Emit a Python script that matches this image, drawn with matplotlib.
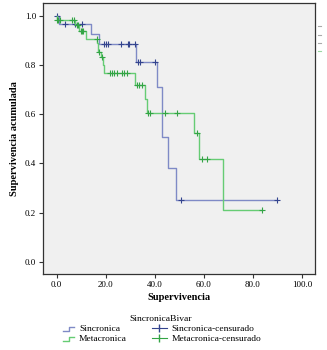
import numpy as np
import matplotlib
matplotlib.use("Agg")
import matplotlib.pyplot as plt
from matplotlib.lines import Line2D
from matplotlib.legend_handler import HandlerBase

plt.rcParams['font.family'] = ['Liberation Serif', 'DejaVu Serif']

# Sincronica: step times and survival after each step
sinc_times = [0, 1.1, 13.9, 17.3, 32.4, 40.8, 43.1, 45.6, 48.7]
sinc_surv = [1.0, 0.966, 0.926, 0.886, 0.812, 0.711, 0.507, 0.380, 0.253]
sinc_cens = [0.3, 3.4, 7.5, 10.5, 19.3, 20.1, 20.8, 26.1, 29.0, 29.6, 32.0,
             33.3, 34.0, 40.1, 50.7, 89.8]

# Metacronica
meta_times = [0, 0.1, 7.5, 9.2, 12.0, 16.6, 17.0, 17.9, 18.8, 19.3, 32.0,
              36.0, 36.7, 56.0, 58.1, 67.7]
meta_surv = [1.0, 0.983, 0.964, 0.937, 0.908, 0.888, 0.854, 0.831, 0.80, 0.768,
             0.721, 0.664, 0.607, 0.522, 0.417, 0.21]
meta_cens = [0.2, 0.6, 1.2, 6.4, 7.1, 8.2, 8.8, 9.8, 10.5, 10.9, 16.3, 17.4,
             18.5, 21.8, 22.7, 23.5, 24.5, 26.8, 27.6, 28.6, 32.6, 33.6, 34.7,
             37.4, 38.1, 44.2, 49.2, 57.1, 59.4, 61.5, 83.7]

groups = [
    ('Sincronica', sinc_times, sinc_surv, sinc_cens, '#7f8ac6', '#34448e'),
    ('Metacronica', meta_times, meta_surv, meta_cens, '#66cc74', '#33a445'),
]


class StepHandler(HandlerBase):
    def create_artists(self, legend, orig_handle, xdescent, ydescent,
                       width, height, fontsize, trans):
        x0 = -xdescent + width * 0.25
        w = width * 0.75
        xs = [x0, x0 + w * 0.5, x0 + w * 0.5, x0 + w]
        ys = [height * 0.1, height * 0.1, height * 0.7, height * 0.7]
        ln = Line2D(xs, ys, color=orig_handle.get_color(), lw=1.0)
        ln.set_transform(trans)
        return [ln]


fig = plt.figure(figsize=(3.27, 3.5), dpi=100)
ax = fig.add_axes([0.1315, 0.217, 0.832, 0.774])
ax.set_facecolor('#f0f0f0')

handles_step = []
handles_cens = []
for name, t, s, c, lc, mc in groups:
    t = np.array(t)
    s = np.array(s)
    c = np.array(c)
    last = max(t.max(), c.max())
    tx = np.append(t, last)
    sx = np.append(s, s[-1])
    ax.step(tx, sx, where='post', color=lc, lw=1.0)
    idx = np.searchsorted(t, c, side='right') - 1
    ax.plot(c, s[idx], linestyle='none', marker='+', color=mc,
            markersize=4.2, markeredgewidth=0.8)
    handles_step.append(Line2D([], [], color=lc, label=name))
    handles_cens.append(Line2D([], [], color=mc, marker='|', markersize=6,
                               lw=0.8, label=name + '-censurado'))

ax.set_xlim(-5.6, 105.4)
ax.set_ylim(-0.05, 1.052)
ax.set_xticks(np.arange(0, 101, 20))
ax.set_xticklabels([f'{v:.1f}' for v in np.arange(0, 101, 20)])
ax.set_yticks(np.arange(0, 1.01, 0.2))
ax.set_yticklabels([f'{v:.1f}' for v in np.arange(0, 1.01, 0.2)])
ax.tick_params(labelsize=6.5, length=3, width=0.8, color='#333333', pad=2)
for sp in ax.spines.values():
    sp.set_color('#333333')
    sp.set_linewidth(0.9)

ax.set_xlabel('Supervivencia', fontsize=7.5, fontweight='bold', labelpad=3)
ax.set_ylabel('Supervivencia acumulada', fontsize=7.5, fontweight='bold', labelpad=4)

# small clipped marks at right edge
for yy, col in [(26, '#aaaaaa'), (35, '#aaaaaa'), (43, '#aaaaaa'), (51, '#9ad7a2')]:
    fig.add_artist(Line2D([318 / 327, 321 / 327], [1 - yy / 350, 1 - yy / 350],
                          color=col, lw=0.8, transform=fig.transFigure))

hmap = {h: StepHandler() for h in handles_step}
leg = fig.legend(handles=handles_step + handles_cens, ncol=2, loc='upper center',
                 bbox_to_anchor=(0.49, 0.115), frameon=False, fontsize=6.8,
                 title='SincronicaBivar', title_fontsize=6.8, handler_map=hmap,
                 handlelength=1.6, handletextpad=0.5, columnspacing=2.6,
                 labelspacing=0.15, borderpad=0.1)

fig.savefig('out.png', dpi=100)
